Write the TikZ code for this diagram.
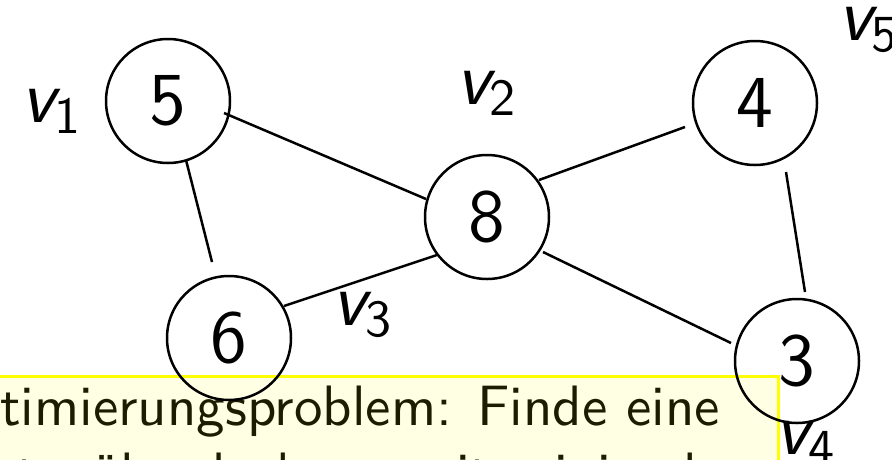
\documentclass[tikz,border=0pt]{standalone}
\usepackage{graphicx}
\definecolor{boxfill}{RGB}{255,255,228}
\definecolor{boxline}{RGB}{255,255,0}
\definecolor{boxtext}{RGB}{28,28,0}
\newcommand\sizedtxt[2]{\scalebox{5.2}{\fontsize{#1}{#1}\selectfont\sffamily #2}}
\tikzset{
  vnode/.style={circle, draw=black, line width=2.5pt, minimum size=124pt, inner sep=0pt},
  vlabel/.style={inner sep=0pt, anchor=base west},
  edgeline/.style={line width=2.5pt, line cap=butt},
  notebox/.style={fill=boxfill, draw=boxline, line width=3pt},
  notetext/.style={inner sep=0pt, anchor=base west, text=boxtext}
}
\begin{document}
\begin{tikzpicture}[x=1pt,y=-1pt]
\useasboundingbox (0,0) rectangle (892,459);
\begin{scope}
\clip (0,0) rectangle (892,459);
% note box
\draw[notebox] (-60,376) rectangle (778,560);
\node[notetext] (line1) at (0,425) {\sizedtxt{10.95}{\llap{Op}timierungsproblem: Finde eine}};
\node[notetext] (line2) at (16,492) {\sizedtxt{10.95}{\llap{Kno}tenüberdeckung mit minimalem}};
% vertices
\node[vnode] (n5) at (168,101) {\sizedtxt{14.4}{5}};
\node[vnode] (n4) at (755,103) {\sizedtxt{14.4}{4}};
\node[vnode] (n8) at (487,217) {\sizedtxt{14.4}{8}};
\node[vnode] (n6) at (229,338) {\sizedtxt{14.4}{6}};
\node[vnode] (n3) at (797,361) {\sizedtxt{14.4}{3}};
% labels
\node[vlabel] (v1) at (21,122) {\sizedtxt{14.4}{\slshape v$_{\mathsf{1}}$}};
\node[vlabel] (v2) at (456,104) {\sizedtxt{14.4}{\slshape v$_{\mathsf{2}}$}};
\node[vlabel] (v3) at (332,325) {\sizedtxt{14.4}{\slshape v$_{\mathsf{3}}$}};
\node[vlabel] (v4) at (775,454) {\sizedtxt{14.4}{\slshape v$_{\mathsf{4}}$}};
\node[vlabel] (v5) at (838,40) {\sizedtxt{14.4}{\slshape v$_{\mathsf{5}}$}};
% edge end points
\coordinate (e58a) at (224,113);
\coordinate (e58b) at (426,199);
\coordinate (e56a) at (186,160);
\coordinate (e56b) at (212,262);
\coordinate (e84a) at (539,180);
\coordinate (e84b) at (685,127);
\coordinate (e68a) at (284,306);
\coordinate (e68b) at (437,255);
\coordinate (e83a) at (543,252);
\coordinate (e83b) at (731,343);
\coordinate (e43a) at (786,172);
\coordinate (e43b) at (805,292);
\draw[edgeline] (e58a) -- (e58b);
\draw[edgeline] (e56a) -- (e56b);
\draw[edgeline] (e84a) -- (e84b);
\draw[edgeline] (e68a) -- (e68b);
\draw[edgeline] (e83a) -- (e83b);
\draw[edgeline] (e43a) -- (e43b);
\end{scope}
\end{tikzpicture}
\end{document}
